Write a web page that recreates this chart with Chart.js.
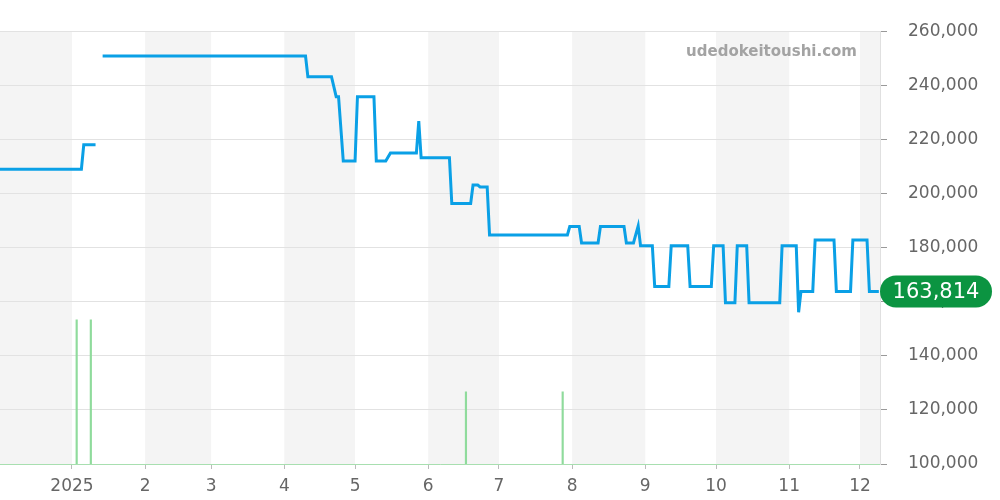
<!DOCTYPE html>
<html lang="en">
<head>
    <meta charset="UTF-8">
    <title>Price chart</title>
    <script src="https://cdn.jsdelivr.net/npm/chart.js"></script>
    <style>
        html, body { margin: 0; padding: 0; background: #fff; overflow: hidden; }
    </style>
</head>
<body>
    <canvas id="priceChart" width="1000" height="500"></canvas>

    <script>
        // price history (date, JPY) - null = gap in the line
        const priceDates = [
            '2024-11-30', '2025-01-05', '2025-01-06', '2025-01-11', '2025-01-12',
            '2025-01-14', '2025-04-10', '2025-04-11', '2025-04-21', '2025-04-23',
            '2025-04-24', '2025-04-26', '2025-05-01', '2025-05-02', '2025-05-09',
            '2025-05-10', '2025-05-14', '2025-05-16', '2025-05-27', '2025-05-28',
            '2025-05-29', '2025-06-10', '2025-06-11', '2025-06-19', '2025-06-20',
            '2025-06-22', '2025-06-23', '2025-06-26', '2025-06-27', '2025-07-30',
            '2025-07-31', '2025-08-04', '2025-08-05', '2025-08-12', '2025-08-13',
            '2025-08-23', '2025-08-24', '2025-08-27', '2025-08-29', '2025-08-30',
            '2025-09-04', '2025-09-05', '2025-09-11', '2025-09-12', '2025-09-19',
            '2025-09-20', '2025-09-29', '2025-09-30', '2025-10-04', '2025-10-05',
            '2025-10-09', '2025-10-10', '2025-10-14', '2025-10-15', '2025-10-28',
            '2025-10-29', '2025-11-04', '2025-11-05', '2025-11-06', '2025-11-11',
            '2025-11-12', '2025-11-20', '2025-11-21', '2025-11-27', '2025-11-28',
            '2025-12-04', '2025-12-05', '2025-12-09'
        ];
        const priceValues = [
            209000, 209000, 218000, 218000, null,
            250800, 250800, 243200, 243200, 235800,
            235800, 212000, 212000, 235800, 235800,
            212000, 212000, 215000, 215000, 226800,
            213200, 213200, 196300, 196300, 203100,
            203100, 202400, 202400, 184700, 184700,
            187800, 187800, 181700, 181700, 187800,
            187800, 181700, 181700, 188000, 180700,
            180700, 165600, 165600, 180700, 180700,
            165600, 165600, 180700, 180700, 159600,
            159600, 180700, 180700, 159600, 159600,
            180700, 180700, 156100, 163814, 163814,
            182800, 182800, 163814, 163814, 182800,
            182800, 163814, 163814
        ];

        // listing counts (green bars)
        const volumeDates = ['2025-01-03', '2025-01-09', '2025-06-17', '2025-07-28'];
        const volumeValues = [2, 2, 1, 1];

        // month ticks
        const monthDates = [
            '2025-01-01', '2025-02-01', '2025-03-01', '2025-04-01', '2025-05-01', '2025-06-01',
            '2025-07-01', '2025-08-01', '2025-09-01', '2025-10-01', '2025-11-01', '2025-12-01'
        ];
        const monthLabels = ['2025', '2', '3', '4', '5', '6', '7', '8', '9', '10', '11', '12'];

        const yTicks = [100000, 120000, 140000, 160000, 180000, 200000, 220000, 240000, 260000];
        const lastPrice = 163814;

        const ORIGIN = Date.UTC(2024, 11, 1);
        function toDay(s) {
            const p = s.split('-').map(Number);
            return (Date.UTC(p[0], p[1] - 1, p[2]) - ORIGIN) / 86400000;
        }
        const X_MIN = 0.5, X_MAX = 373.5;
        const monthDays = monthDates.map(toDay);

        // grey bands for every other month
        const bandPlugin = {
            id: 'bands',
            beforeDraw(chart) {
                const { ctx, chartArea, scales } = chart;
                const edges = [X_MIN].concat(monthDays, [X_MAX]);
                ctx.save();
                ctx.fillStyle = '#f4f4f4';
                for (let i = 0; i < edges.length - 1; i += 2) {
                    const x1 = scales.x.getPixelForValue(edges[i]);
                    const x2 = scales.x.getPixelForValue(edges[i + 1]);
                    ctx.fillRect(x1, chartArea.top, x2 - x1, chartArea.bottom - chartArea.top);
                }
                ctx.restore();
            },
            afterDraw(chart) {
                const { ctx, chartArea, scales } = chart;
                ctx.save();
                // watermark
                ctx.font = 'bold 15px "DejaVu Sans"';
                ctx.fillStyle = '#a3a3a3';
                ctx.textAlign = 'right';
                ctx.textBaseline = 'middle';
                ctx.fillText('udedokeitoushi.com', 857, 52);

                // last price badge
                const y = scales.y.getPixelForValue(lastPrice);
                const x = chartArea.right;
                const w = 112, h = 32, r = 16;
                ctx.fillStyle = '#0b9441';
                ctx.beginPath();
                ctx.roundRect(x, y - h / 2, w, h, r);
                ctx.fill();
                ctx.fillStyle = '#fff';
                ctx.font = '21px "DejaVu Sans"';
                ctx.textAlign = 'center';
                ctx.fillText(lastPrice.toLocaleString('en-US'), x + w / 2, y + 1);
                ctx.restore();
            }
        };

        Chart.defaults.font.family = '"DejaVu Sans", sans-serif';

        const ctx = document.getElementById('priceChart').getContext('2d');
        new Chart(ctx, {
            type: 'line',
            data: {
                datasets: [
                    {
                        label: 'price',
                        data: priceDates.map((d, i) => ({ x: toDay(d), y: priceValues[i] })),
                        borderColor: '#0aa0e6',
                        borderWidth: 3,
                        pointRadius: 0,
                        tension: 0,
                        spanGaps: false,
                        yAxisID: 'y',
                        order: 1
                    },
                    {
                        type: 'bar',
                        label: 'count',
                        data: volumeDates.map((d, i) => ({ x: toDay(d), y: volumeValues[i] })),
                        backgroundColor: '#8fdb9c',
                        barThickness: 1.5,
                        yAxisID: 'vol',
                        order: 2
                    }
                ]
            },
            options: {
                responsive: false,
                animation: false,
                layout: { padding: { top: 30, left: 0, right: 0, bottom: 0 } },
                plugins: {
                    legend: { display: false },
                    tooltip: { enabled: false }
                },
                scales: {
                    x: {
                        type: 'linear',
                        min: X_MIN,
                        max: X_MAX,
                        offset: false,
                        afterBuildTicks: scale => {
                            scale.ticks = monthDays.map(v => ({ value: v }));
                        },
                        afterFit: scale => { scale.height = 36; },
                        ticks: {
                            autoSkip: false,
                            maxRotation: 0,
                            color: '#666',
                            font: { size: 17 },
                            padding: 7,
                            callback: value => monthLabels[monthDays.indexOf(value)]
                        },
                        grid: {
                            offset: false,
                            drawOnChartArea: false,
                            drawTicks: true,
                            tickLength: 5,
                            tickColor: '#bbb'
                        },
                        border: { color: '#a8dfb0', dash: [1, 1] }
                    },
                    y: {
                        position: 'right',
                        min: 100000,
                        max: 260000,
                        afterBuildTicks: scale => {
                            scale.ticks = yTicks.map(v => ({ value: v }));
                        },
                        afterFit: scale => { scale.width = 120; },
                        ticks: {
                            color: '#666',
                            font: { size: 17 },
                            padding: 21,
                            callback: value => Number(value).toLocaleString('en-US')
                        },
                        grid: {
                            color: '#e2e2e2',
                            tickLength: 7,
                            tickColor: '#999'
                        },
                        border: { color: '#e0e0e0' }
                    },
                    vol: {
                        display: false,
                        min: 0,
                        max: 6
                    }
                }
            },
            plugins: [bandPlugin]
        });
    </script>
</body>
</html>
